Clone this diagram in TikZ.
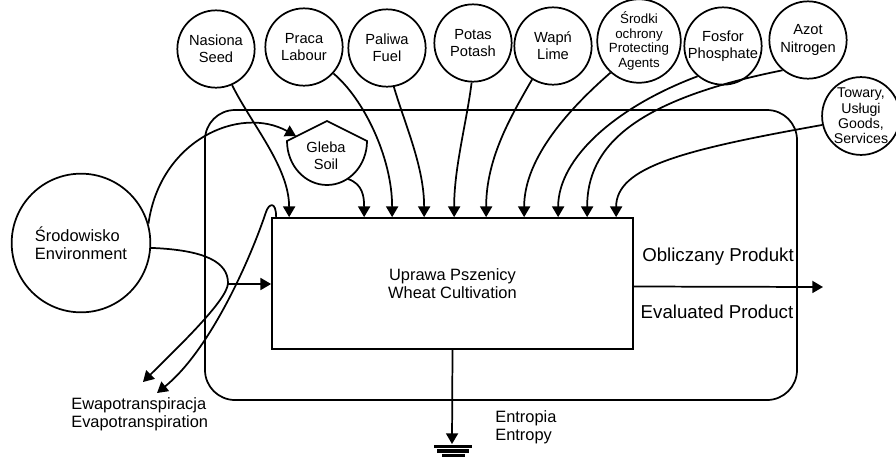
\documentclass[tikz,border=0pt]{standalone}
\usepackage{fontspec}
\setmainfont{Liberation Sans}
\usetikzlibrary{arrows.meta,calc}
\begin{document}
\begin{tikzpicture}[x=0.75pt,y=-0.75pt,
  line width=1.3pt,
  arr/.style={-{Triangle[length=8pt,width=9pt]}},
  src/.style={circle,draw,minimum size=58pt,inner sep=0pt,align=center,font=\fontsize{11}{12.8}\selectfont},
  lbl/.style={align=center,font=\fontsize{12.3}{13.5}\selectfont},
  big/.style={font=\fontsize{14}{16}\selectfont}]
\useasboundingbox (0,0) rectangle (896,458);
% frame and process box
\node[draw,rounded corners=22.5pt,minimum width=444pt,minimum height=217.5pt,inner sep=0pt] (frame) at (501,255) {};
\node[draw,minimum width=270.75pt,minimum height=98.25pt,inner sep=0pt,lbl] (box) at (452.5,283.5) {Uprawa Pszenicy\\Wheat Cultivation};
% inputs
\node[src] (nas) at (216,49) {Nasiona\\Seed};
\node[src] (pra) at (304,47) {Praca\\Labour};
\node[src] (pal) at (387,48) {Paliwa\\Fuel};
\node[src] (pot) at (473,43) {Potas\\Potash};
\node[src] (wap) at (553,46) {Wapń\\Lime};
\node[src,font=\fontsize{10}{10.9}\selectfont] (sro) at (639,41) {Środki\\ochrony\\Protecting\\Agents};
\node[src] (fos) at (723,46) {Fosfor\\Phosphate};
\node[src] (azo) at (808,40) {Azot\\Nitrogen};
\node[src,font=\fontsize{10.6}{11.6}\selectfont] (tow) at (861,116) {Towary,\\Usługi\\Goods,\\Services};
% environment
\node[circle,draw,minimum size=104pt,inner sep=0pt,lbl,align=left] (env) at (81,243) {Środowisko\\Environment};
% soil
\node[align=center,font=\fontsize{11}{12.8}\selectfont] (gleba) at (326,156) {Gleba\\Soil};
\draw ($(gleba)+(-39,-15)$) -- ($(gleba)+(1,-35)$) -- ($(gleba)+(41,-15)$)
  arc[start angle=0,end angle=180,x radius=40,y radius=44] -- cycle;
% connectors into the box
\draw[arr] (nas.-66) .. controls +(20,40) and +(0,-50) .. ($(box.north west)+(18,0)$);
\draw[arr] ($(gleba)+(22,23)$) .. controls +(15,5) and +(0,-20) .. ($(box.north west)+(93,0)$);
\draw[arr] (pra.-42) .. controls +(30,25) and +(0,-60) .. ($(box.north west)+(121,0)$);
\draw[arr] (pal.-80) .. controls +(12,40) and +(0,-50) .. ($(box.north west)+(153,0)$);
\draw[arr] (pot.-92) .. controls +(-5,40) and +(0,-50) .. ($(box.north west)+(183,0)$);
\draw[arr] (wap.-122) .. controls +(-20,35) and +(0,-60) .. ($(box.north west)+(215,0)$);
\draw[arr] (sro.-132) .. controls +(-40,35) and +(0,-60) .. ($(box.north west)+(253,0)$);
\draw[arr] (fos.-130) .. controls +(-80,30) and +(0,-60) .. ($(box.north west)+(287,0)$);
\draw[arr] (azo.-130) .. controls +(-150,30) and +(0,-70) .. ($(box.north west)+(316,0)$);
\draw[arr] (tow.-167) .. controls +(-140,25) and +(0,-50) .. ($(box.north west)+(345,0)$);
% environment flows
\draw[arr] (env.16) .. controls (160,140) and (240,105) .. ($(gleba)+(-30,-20)$);
\coordinate (ev1) at (143,382);
\coordinate (ev2) at (157,393);
\coordinate (split) at (228,284);
\draw[arr] (env.-4) .. controls (205,250) and (228,262) .. (228,283) .. controls (228,300) and (175,350) .. (ev1);
\draw[arr] (split) -- (split -| box.west);
\draw[arr] ($(box.north west)+(5,0)$) .. controls +(0,-16) and +(3,-9) .. (266,212) .. controls (250,260) and (210,350) .. (ev2);
\node[lbl,align=left,anchor=west] (evap) at (66,414) {Ewapotranspiracja\\Evapotranspiration};
% entropy
\coordinate (gnd) at (452,444);
\draw[arr] (box.south) -- (gnd);
\fill (434,444.5) rectangle (472,448);
\fill (437,449) rectangle (469,452.5);
\fill (442,453.5) rectangle (465,457);
\node[lbl,align=left,anchor=west] (entr) at (490,427) {Entropia\\Entropy};
% output
\coordinate (out) at (823,287);
\draw[arr] ($(box.east)+(0,3)$) -- (out);
\node[big] (obl) at (718,257) {Obliczany Produkt};
\node[big] (eva) at (717,312) {Evaluated Product};
\end{tikzpicture}
\end{document}
